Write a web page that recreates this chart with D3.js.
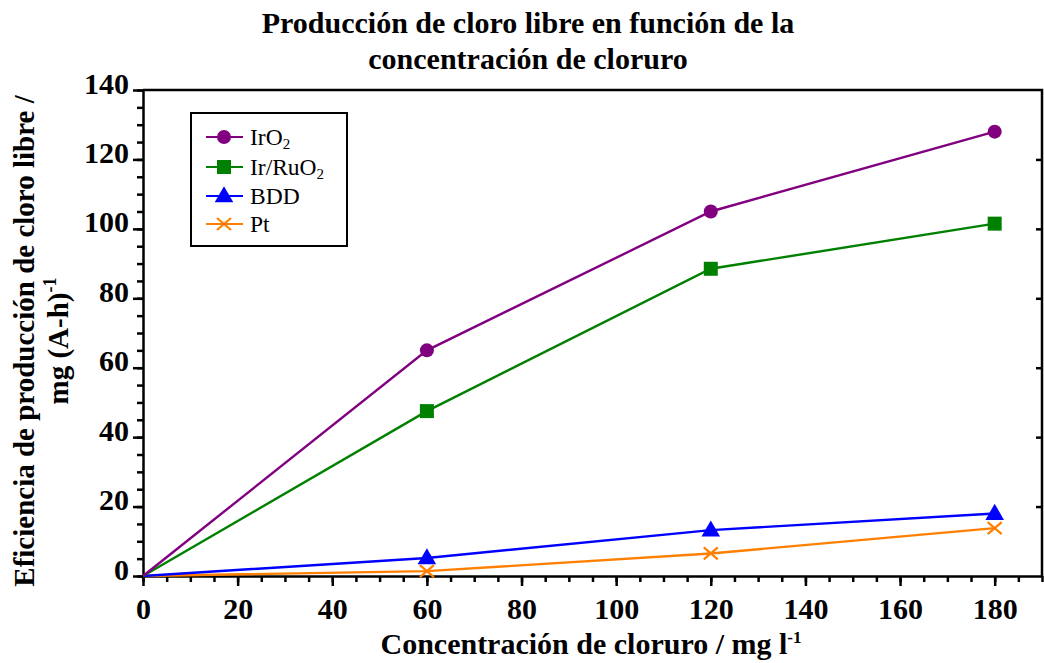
<!DOCTYPE html>
<html>
<head>
<meta charset="utf-8">
<script src="https://cdn.jsdelivr.net/npm/d3@7"></script>
<style>
  body { margin: 0; background: #fff; }
  text { font-family: "Liberation Serif", "Times New Roman", serif; }
</style>
</head>
<body>
<div id="chart"></div>
<script>
// data
var conc = [0, 60, 120, 180];
var iro2 = [0, 65, 105, 128];
var irruo2 = [0, 47.5, 88.5, 101.5];
var bdd = [0, 5.2, 13.2, 18];
var pt = [0, 1.4, 6.5, 13.8];

var seriesNames = ["IrO", "Ir/RuO", "BDD", "Pt"];
var seriesSubs = ["2", "2", "", ""];
var seriesColors = ["#800080", "#008000", "#0000ff", "#ff8000"];
var seriesShapes = ["circle", "square", "triangle", "cross"];
var seriesValues = [iro2, irruo2, bdd, pt];

var xTicks = [0, 20, 40, 60, 80, 100, 120, 140, 160, 180];
var yTicks = [0, 20, 40, 60, 80, 100, 120, 140];

var W = 1044, H = 663;
var margin = {top: 90, right: 2, bottom: 87, left: 143};

var svg = d3.select("#chart").append("svg")
    .attr("width", W)
    .attr("height", H);

var x = d3.scaleLinear().domain([0, 190]).range([margin.left, W - margin.right]);
var y = d3.scaleLinear().domain([0, 140]).range([H - margin.bottom, margin.top]);

// frame (top and right)
svg.append("path")
    .attr("d", "M" + x(0) + "," + y(140) + "H" + x(190) + "V" + y(0))
    .attr("fill", "none")
    .attr("stroke", "#000")
    .attr("stroke-width", 2.5);

// x axis: minor ticks every 5
svg.append("g")
    .attr("transform", "translate(0," + y(0) + ")")
    .call(d3.axisBottom(x).tickValues(d3.range(0, 191, 5)).tickSize(6).tickFormat(""))
    .call(g => g.select(".domain").remove())
    .call(g => g.selectAll("line").attr("stroke-width", 2.5));
var xAxis = svg.append("g")
    .attr("transform", "translate(0," + y(0) + ")")
    .call(d3.axisBottom(x).tickValues(xTicks).tickSize(10).tickPadding(12).tickSizeOuter(0));
xAxis.select(".domain").attr("stroke-width", 2.5);
xAxis.selectAll("line").attr("stroke-width", 2.5);
xAxis.selectAll("text")
    .attr("font-family", "Liberation Serif")
    .attr("font-weight", "bold")
    .attr("font-size", 30)
    .attr("fill", "#000");

// y axis
svg.append("g")
    .attr("transform", "translate(" + x(0) + ",0)")
    .call(d3.axisLeft(y).tickValues(d3.range(0, 141, 5)).tickSize(6).tickFormat(""))
    .call(g => g.select(".domain").remove())
    .call(g => g.selectAll("line").attr("stroke-width", 2.5));
var yAxis = svg.append("g")
    .attr("transform", "translate(" + x(0) + ",0)")
    .call(d3.axisLeft(y).tickValues(yTicks).tickSize(10).tickPadding(4).tickSizeOuter(0));
yAxis.select(".domain").attr("stroke-width", 2.5);
yAxis.selectAll("line").attr("stroke-width", 2.5);
yAxis.selectAll("text")
    .attr("font-family", "Liberation Serif")
    .attr("font-weight", "bold")
    .attr("font-size", 30)
    .attr("dy", "0.1em")
    .attr("fill", "#000");

// right side inner ticks
svg.append("g")
    .attr("transform", "translate(" + x(190) + ",0)")
    .call(d3.axisLeft(y).tickValues(yTicks.slice(1, -1)).tickSize(6).tickFormat(""))
    .call(g => g.select(".domain").remove())
    .call(g => g.selectAll("line").attr("stroke-width", 2.5).attr("x2", -6));

// lines and markers
var line = d3.line()
    .x(d => x(d[0]))
    .y(d => y(d[1]));

function drawMarker(g, shape, color, cx, cy) {
  if (shape === "circle") {
    g.append("circle").attr("cx", cx).attr("cy", cy).attr("r", 7).attr("fill", color);
  } else if (shape === "square") {
    g.append("rect").attr("x", cx - 7).attr("y", cy - 7).attr("width", 14).attr("height", 14).attr("fill", color);
  } else if (shape === "triangle") {
    g.append("path").attr("d", d3.symbol(d3.symbolTriangle, 150)()).attr("transform", "translate(" + cx + "," + (cy + 1) + ")").attr("fill", color);
  } else {
    g.append("path").attr("d", "M-7,-6L7,6M-7,6L7,-6")
      .attr("transform", "translate(" + cx + "," + cy + ")")
      .attr("stroke", color).attr("stroke-width", 2.2).attr("fill", "none");
  }
}

// draw from bottom series up so upper ones sit on top
for (var s = seriesValues.length - 1; s >= 0; s--) {
  var pts = conc.map((c, i) => [c, seriesValues[s][i]]);
  var g = svg.append("g");
  g.append("path")
    .attr("d", line(pts))
    .attr("fill", "none")
    .attr("stroke", seriesColors[s])
    .attr("stroke-width", 2.4);
  pts.slice(1).forEach(p => drawMarker(g, seriesShapes[s], seriesColors[s], x(p[0]), y(p[1])));
}

// legend
var leg = svg.append("g");
leg.append("rect")
  .attr("x", 191).attr("y", 113).attr("width", 156).attr("height", 133)
  .attr("fill", "#fff").attr("stroke", "#000").attr("stroke-width", 2);
var legY = [137, 167, 196, 224];
seriesNames.forEach(function(name, i) {
  var ly = legY[i];
  leg.append("line").attr("x1", 206).attr("x2", 243).attr("y1", ly).attr("y2", ly)
    .attr("stroke", seriesColors[i]).attr("stroke-width", 2.2);
  drawMarker(leg, seriesShapes[i], seriesColors[i], 224, ly);
  var t = leg.append("text").attr("x", 250).attr("y", ly + 8)
    .attr("font-size", 23.5).attr("fill", "#000").text(name);
  if (seriesSubs[i]) {
    t.append("tspan").attr("font-size", 15).attr("dy", 4).text(seriesSubs[i]);
  }
});

// title
var title = svg.append("text")
  .attr("text-anchor", "middle")
  .attr("font-weight", "bold")
  .attr("font-size", 30)
  .attr("fill", "#000");
title.append("tspan").attr("x", 528).attr("y", 33).text("Producción de cloro libre en función de la");
title.append("tspan").attr("x", 528).attr("y", 69).text("concentración de cloruro");

// x label
var xl = svg.append("text")
  .attr("x", 591).attr("y", 654)
  .attr("text-anchor", "middle")
  .attr("font-weight", "bold")
  .attr("font-size", 30)
  .attr("fill", "#000")
  .text("Concentración de cloruro / mg l");
xl.append("tspan").attr("font-size", 17).attr("dy", -11).text("-1");

// y label
var yl = svg.append("g").attr("transform", "translate(0,341) rotate(-90)");
yl.append("text")
  .attr("x", 0).attr("y", 34)
  .attr("text-anchor", "middle")
  .attr("font-weight", "bold")
  .attr("font-size", 29)
  .attr("fill", "#000")
  .text("Eficiencia de producción de cloro libre /");
var yl2 = yl.append("text")
  .attr("x", 0).attr("y", 68)
  .attr("text-anchor", "middle")
  .attr("font-weight", "bold")
  .attr("font-size", 29)
  .attr("fill", "#000")
  .text("mg (A-h)");
yl2.append("tspan").attr("font-size", 18).attr("dy", -12).text("-1");
</script>
</body>
</html>
